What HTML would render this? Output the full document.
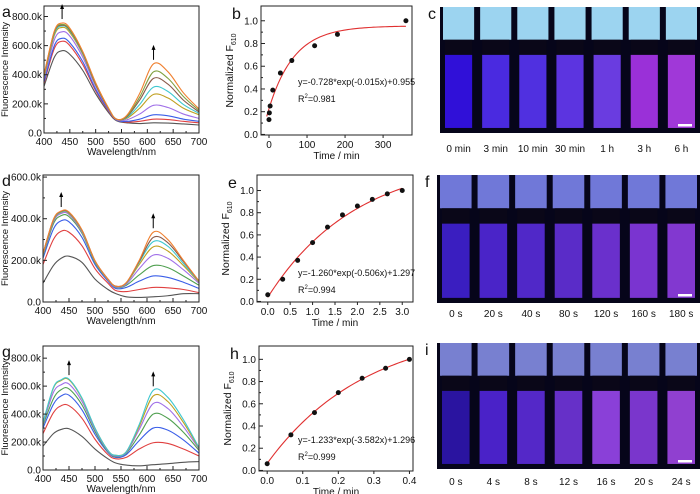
<!DOCTYPE html>
<html><head><meta charset="utf-8"><style>
body{margin:0;background:#fff;width:700px;height:494px;overflow:hidden}
svg{display:block;font-family:"Liberation Sans",sans-serif}
</style></head><body>
<svg id="fig" width="700" height="494" viewBox="0 0 700 494"></svg>
<script>
const W = [400,420,435,450,475,500,525,540,560,585,612,640,670,700];
const seriesColors = ["#555555","#e04040","#3a5ee8","#a070e8","#c0a020","#40c8d0","#8a5a4a","#80a040","#f08030"];
const specA = [
 [320,520,565,540,430,270,140,85,70,65,70,68,62,55],
 [340,580,630,600,470,290,150,90,75,80,95,92,80,70],
 [350,600,650,620,490,300,155,90,80,95,125,118,95,80],
 [370,640,695,665,520,320,160,92,90,130,190,175,130,100],
 [380,670,725,690,540,330,165,95,100,170,265,240,170,125],
 [385,680,735,700,545,335,165,95,105,195,315,285,195,135],
 [390,690,740,705,550,335,165,95,110,225,375,335,225,145],
 [395,695,745,710,555,340,170,95,115,245,420,375,250,155],
 [400,700,755,720,560,345,170,95,120,270,475,420,275,165]];
const colorsD = ["#555555","#e04040","#3a5ee8","#50a050","#a070e8","#c0a020","#40c8d0","#8a5a4a","#f08030"];
const specD = [
 [90,175,210,220,190,110,60,40,25,22,25,30,40,40],
 [180,300,340,335,270,160,90,55,50,60,70,68,60,45],
 [210,350,390,385,310,180,100,65,70,100,125,118,95,65],
 [220,375,415,410,330,190,105,70,80,130,175,165,125,80],
 [225,385,425,420,335,195,105,72,85,160,225,210,155,90],
 [228,390,430,425,340,195,108,75,90,180,265,245,175,95],
 [230,392,432,428,342,196,108,75,90,190,290,268,185,98],
 [232,395,435,430,345,198,110,76,92,195,310,285,195,100],
 [233,397,437,432,346,198,110,76,93,200,335,300,200,100]];
const colorsG = ["#555555","#e04040","#3a5ee8","#50a050","#a070e8","#c0a020","#40c8d0"];
const specG = [
 [170,260,290,295,240,150,80,50,35,30,38,45,55,60],
 [260,410,460,460,370,220,110,80,90,150,195,190,150,100],
 [300,470,530,535,430,255,125,90,110,210,300,285,215,120],
 [320,510,575,580,465,275,130,95,120,250,400,370,270,140],
 [330,555,610,615,490,290,135,100,125,290,475,440,310,150],
 [335,585,640,645,510,300,140,105,130,310,530,490,340,155],
 [340,590,645,650,515,300,140,105,130,325,570,520,360,160]];
const xB = [0,1,3,10,30,60,120,180,360];
const yB = [0.13,0.19,0.25,0.39,0.54,0.65,0.78,0.88,1.0];
const fitB = [-0.728,-0.015,0.955];
const xE = [0,0.333,0.667,1,1.333,1.667,2,2.333,2.667,3];
const yE = [0.06,0.2,0.37,0.53,0.67,0.78,0.86,0.92,0.97,1.0];
const fitE = [-1.260,-0.506,1.297];
const xH = [0,0.0667,0.133,0.2,0.267,0.333,0.4];
const yH = [0.06,0.32,0.52,0.70,0.83,0.92,1.0];
const fitH = [-1.233,-3.582,1.296];
const labelsC = ["0 min","3 min","10 min","30 min","1 h","3 h","6 h"];
const labelsF = ["0 s","20 s","40 s","80 s","120 s","160 s","180 s"];
const labelsI = ["0 s","4 s","8 s","12 s","16 s","20 s","24 s"];

const svg = document.getElementById('fig');
const NS = "http://www.w3.org/2000/svg";
function mk(tag, attrs, parent){const e=document.createElementNS(NS,tag);for(const k in attrs)e.setAttribute(k,attrs[k]);(parent||svg).appendChild(e);return e;}
function txt(s,x,y,size,anchor,parent,extra){const t=mk('text',Object.assign({x:x,y:y,'font-size':size,'text-anchor':anchor||'middle',fill:'#111'},extra||{}),parent);t.textContent=s;return t;}
function smooth(pts){let d=`M${pts[0][0]},${pts[0][1]}`;for(let i=0;i<pts.length-1;i++){const p0=pts[Math.max(i-1,0)],p1=pts[i],p2=pts[i+1],p3=pts[Math.min(i+2,pts.length-1)];const c1=[p1[0]+(p2[0]-p0[0])/6,p1[1]+(p2[1]-p0[1])/6],c2=[p2[0]-(p3[0]-p1[0])/6,p2[1]-(p3[1]-p1[1])/6];d+=` C${c1[0]},${c1[1]} ${c2[0]},${c2[1]} ${p2[0]},${p2[1]}`;}return d;}

function axesBox(g,L,T,R,B){const r=mk('rect',{x:L,y:T,width:R-L,height:B-T,fill:'none',stroke:'#222','stroke-width':1},g);}

function spectrum(letter,L,T,R,B,ymaxK,yStep,data,cols,arrowX){
 const g=mk('g',{});
 const yPer=(B-T)/ymaxK;
 const sx=w=>L+(w-400)/300*(R-L), sy=v=>B-v*yPer;
 data.forEach((s,i)=>{const p=mk('path',{d:smooth(W.map((w,j)=>[sx(w),sy(s[j])])),fill:'none',stroke:cols[i],'stroke-width':1.1},g);});
 axesBox(g,L,T,R,B);
 for(let w=400;w<=700;w+=25){const x=sx(w);mk('line',{x1:x,y1:B,x2:x,y2:B-(w%50?2:4),stroke:'#222'},g);if(w%50===0)txt(String(w),x,B+12,10,'middle',g);}
 for(let v=0;v<=ymaxK;v+=yStep/2){const y=sy(v);if(y<T-0.5)break;mk('line',{x1:L,y1:y,x2:L+((v/yStep)%1?2:4),y2:y,stroke:'#222'},g);if((v/yStep)%1===0)txt(v===0?'0.0':v.toFixed(1)+'k',L-2,y+3.5,10,'end',g);}
 txt('Wavelength/nm',(L+R)/2,B+22,10,'middle',g);
 txt('Fluorescence Intensity',0,0,9.5,'middle',g,{transform:`translate(8,${(T+B)/2}) rotate(-90)`});
 txt(letter,2,T+11,16,'start',g);
 const last=data[data.length-1];
 arrowX.forEach(w=>{const j=W.indexOf(w);const x=sx(w),y=sy(last[j])-4;mk('line',{x1:x,y1:y,x2:x,y2:y-12,stroke:'#000','stroke-width':1},g);mk('path',{d:`M${x-2},${y-10} L${x},${y-15} L${x+2},${y-10}Z`,fill:'#000'},g);});
}
function kinetic(letter,L,T,R,B,xmin,xmax,ymax,xticks,xfmt,xs,ys,fit,eq,r2,eqX,eqY,xtitle,xstart){
 const g=mk('g',{});
 const sx=v=>L+(v-xmin)/(xmax-xmin)*(R-L), sy=v=>B-(v+0.005)/(ymax+0.005)*(B-T);
 axesBox(g,L,T,R,B);
 xticks.forEach(v=>{mk('line',{x1:sx(v),y1:B,x2:sx(v),y2:B+3,stroke:'#222'},g);txt(xfmt(v),sx(v),B+13,10,'middle',g);});
 for(let v=0;v<=1.0001;v+=0.1){const y=sy(v);mk('line',{x1:L,y1:y,x2:L+(Math.round(v*10)%2?2:4),y2:y,stroke:'#222'},g);if(Math.round(v*10)%2===0)txt(v.toFixed(1),L-3,y+3.5,10,'end',g);}
 const x0=xstart, x1=xs[xs.length-1];let pts=[];for(let k=0;k<=60;k++){const xv=x0+(x1-x0)*k/60;pts.push([sx(xv),sy(fit[0]*Math.exp(fit[1]*xv)+fit[2])]);}
 const fl=mk('path',{d:'M'+pts.map(p=>p.join(',')).join(' L'),fill:'none',stroke:'#e03030','stroke-width':1.1},g);
 xs.forEach((xv,i)=>{const c=mk('circle',{cx:sx(xv),cy:sy(ys[i]),r:2.5,fill:'#111'},g);});
 txt(eq,eqX,eqY,9,'start',g);
 const r=txt('',eqX,eqY+17,9,'start',g);r.innerHTML='R<tspan font-size="6" dy="-4">2</tspan><tspan dy="4">='+r2+'</tspan>';
 txt(xtitle,(L+R)/2,B+24,10,'middle',g);
 const yt=txt('',0,0,10.5,'middle',g,{transform:`translate(${L-28},${(T+B)/2}) rotate(-90)`});yt.innerHTML='Normalized F<tspan font-size="7" dy="3">610</tspan>';
 txt(letter,L-29,T+13,16,'start',g);
}
function photo(letter,L,T,R,B,labels,liq,cap,lblY){
 const g=mk('g',{});
 mk('rect',{x:L,y:T,width:R-L,height:B-T,fill:'#06051a'},g);
 const n=labels.length,cw=(R-L)/n;const h=B-T;
 labels.forEach((lab,i)=>{const x=L+i*cw+3,w=cw-6;
  mk('rect',{x:x,y:T,width:w,height:h*0.26,fill:cap},g);
  mk('rect',{x:x+2,y:T+h*0.26,width:w-4,height:h*0.12,fill:'#0a0718'},g);
  const r=mk('rect',{x:x+2,y:T+h*0.38,width:w-4,height:h*0.58,fill:liq[i]},g);
  txt(lab,L+i*cw+cw/2,lblY,10,'middle',g);});
 mk('rect',{x:R-22,y:B-9,width:14,height:2.5,fill:'#fff'},g);
 txt(letter,L-12,T+12,16,'start',g);
}
spectrum('a',44,6,199,133,872,200,specA,seriesColors,[435,612]);
spectrum('d',43,175,199,302,610,200,specD,colorsD,[435,612]);
spectrum('g',43,346,199,470,887,200,specG,colorsG,[450,612]);
kinetic('b',261,6,412,135,-21,376,1.13,[0,100,200,300],v=>String(v),xB,yB,fitB,'y=-0.728*exp(-0.015x)+0.955','0.981',298,85,'Time / min',-6);
kinetic('e',257,175,413,302,-0.24,3.24,1.14,[0,0.5,1,1.5,2,2.5,3],v=>v.toFixed(1),xE,yE,fitE,'y=-1.260*exp(-0.506x)+1.297','0.994',298,276,'Time / min',0);
kinetic('h',259,346,413,471,-0.023,0.41,1.12,[0,0.1,0.2,0.3,0.4],v=>v.toFixed(1),xH,yH,fitH,'y=-1.233*exp(-3.582x)+1.296','0.999',298,443,'Time / min',0);
photo('c',440,7,700,133,labelsC,["#3010d8","#4a2ae0","#5030e0","#5c34e0","#6a3ce0","#9a30d8","#a038d8"],"#9cd4f0",152);
photo('f',437,175,700,303,labelsF,["#3a1ec0","#4a24c8","#5028c8","#5a2cc8","#6a30cc","#7a34d0","#8238d0"],"#7078d8",317);
photo('i',437,343,700,469,labelsI,["#2a14a0","#4a22c8","#5428c8","#6630c8","#8a40d8","#7a36cc","#9040d0"],"#7880d0",485);
</script>
</body></html>
